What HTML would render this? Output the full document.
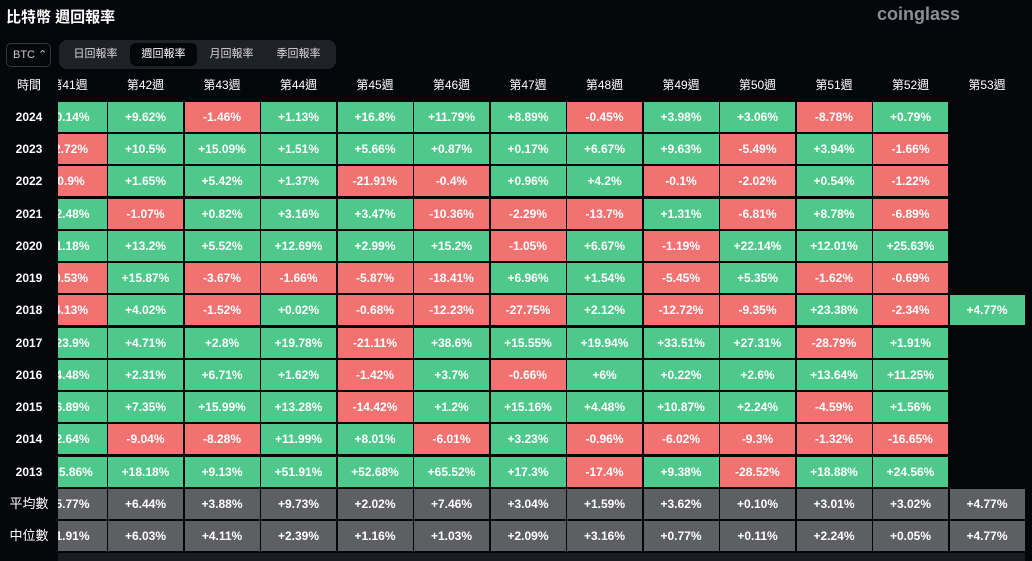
<!DOCTYPE html>
<html><head><meta charset="utf-8"><style>
*{margin:0;padding:0;box-sizing:border-box}
body{width:1032px;height:561px;background:#05060a;overflow:hidden;position:relative;font-family:"Liberation Sans","Noto Sans CJK TC",sans-serif;color:#fff}
.t{position:absolute;left:6px;top:6px;font-size:15px;font-weight:bold}
.logo{position:absolute;left:877px;top:4px;font-size:18px;font-weight:bold;color:#8b8e95;font-family:"Liberation Sans",sans-serif}
.btc{position:absolute;left:6px;top:43px;width:45px;height:24px;border:1px solid #34373f;border-radius:5px;font-size:11px;color:#ccc;line-height:22px;padding-left:6px}
.tabs{position:absolute;left:59px;top:40px;width:277px;height:29px;background:#1f2127;border-radius:8px}
.tab{position:absolute;top:3px;height:23px;width:67px;font-size:11px;color:#d8d8d8;text-align:center;line-height:23px;border-radius:6px}
.tab.a{background:#05060a;color:#fff}
.yl{position:absolute;left:0;width:58px;text-align:center;font-size:12px;font-weight:bold;line-height:30px}
.grid{position:absolute;left:58px;top:70px;width:974px;height:491px;overflow:hidden}
.c{position:absolute;width:75px;height:30px;line-height:30px;text-align:center;font-size:12px;font-weight:bold;color:#fff}
.h{height:30px;line-height:30px;font-weight:normal;font-size:12px}
.g{background:#4fc98b}.r{background:#f27272}.m{background:#5e5f63}
.sb{position:absolute;left:0;top:483px;width:967px;height:8px;background:#1a1c23}
</style></head><body>
<div class="t">比特幣 週回報率</div>
<div class="logo">coinglass</div>
<div class="btc">BTC ⌃</div>
<div class="tabs">
<div class="tab" style="left:3px">日回報率</div>
<div class="tab a" style="left:71px">週回報率</div>
<div class="tab" style="left:139px">月回報率</div>
<div class="tab" style="left:206px">季回報率</div>
</div>
<div class="yl" style="top:70px;font-weight:normal">時間</div>
<div class="yl" style="top:102px">2024</div>
<div class="yl" style="top:134px">2023</div>
<div class="yl" style="top:166px">2022</div>
<div class="yl" style="top:199px">2021</div>
<div class="yl" style="top:231px">2020</div>
<div class="yl" style="top:263px">2019</div>
<div class="yl" style="top:295px">2018</div>
<div class="yl" style="top:328px">2017</div>
<div class="yl" style="top:360px">2016</div>
<div class="yl" style="top:392px">2015</div>
<div class="yl" style="top:424px">2014</div>
<div class="yl" style="top:457px">2013</div>
<div class="yl" style="top:489px;font-weight:normal;font-size:13px">平均數</div>
<div class="yl" style="top:521px;font-weight:normal;font-size:13px">中位數</div>
<div class="grid">
<div class="sb"></div>
<div class="c h" style="left:-26.5px;top:0">第41週</div>
<div class="c h" style="left:50px;top:0">第42週</div>
<div class="c h" style="left:126.5px;top:0">第43週</div>
<div class="c h" style="left:203px;top:0">第44週</div>
<div class="c h" style="left:279.5px;top:0">第45週</div>
<div class="c h" style="left:356px;top:0">第46週</div>
<div class="c h" style="left:432.5px;top:0">第47週</div>
<div class="c h" style="left:509px;top:0">第48週</div>
<div class="c h" style="left:585.5px;top:0">第49週</div>
<div class="c h" style="left:662px;top:0">第50週</div>
<div class="c h" style="left:738.5px;top:0">第51週</div>
<div class="c h" style="left:815px;top:0">第52週</div>
<div class="c h" style="left:891.5px;top:0">第53週</div>

<div class="c g" style="left:-26.5px;top:32px">+0.14%</div><div class="c g" style="left:50px;top:32px">+9.62%</div><div class="c r" style="left:126.5px;top:32px">-1.46%</div><div class="c g" style="left:203px;top:32px">+1.13%</div><div class="c g" style="left:279.5px;top:32px">+16.8%</div><div class="c g" style="left:356px;top:32px">+11.79%</div><div class="c g" style="left:432.5px;top:32px">+8.89%</div><div class="c r" style="left:509px;top:32px">-0.45%</div><div class="c g" style="left:585.5px;top:32px">+3.98%</div><div class="c g" style="left:662px;top:32px">+3.06%</div><div class="c r" style="left:738.5px;top:32px">-8.78%</div><div class="c g" style="left:815px;top:32px">+0.79%</div>

<div class="c r" style="left:-26.5px;top:64px">-2.72%</div><div class="c g" style="left:50px;top:64px">+10.5%</div><div class="c g" style="left:126.5px;top:64px">+15.09%</div><div class="c g" style="left:203px;top:64px">+1.51%</div><div class="c g" style="left:279.5px;top:64px">+5.66%</div><div class="c g" style="left:356px;top:64px">+0.87%</div><div class="c g" style="left:432.5px;top:64px">+0.17%</div><div class="c g" style="left:509px;top:64px">+6.67%</div><div class="c g" style="left:585.5px;top:64px">+9.63%</div><div class="c r" style="left:662px;top:64px">-5.49%</div><div class="c g" style="left:738.5px;top:64px">+3.94%</div><div class="c r" style="left:815px;top:64px">-1.66%</div>

<div class="c r" style="left:-26.5px;top:96px">-0.9%</div><div class="c g" style="left:50px;top:96px">+1.65%</div><div class="c g" style="left:126.5px;top:96px">+5.42%</div><div class="c g" style="left:203px;top:96px">+1.37%</div><div class="c r" style="left:279.5px;top:96px">-21.91%</div><div class="c r" style="left:356px;top:96px">-0.4%</div><div class="c g" style="left:432.5px;top:96px">+0.96%</div><div class="c g" style="left:509px;top:96px">+4.2%</div><div class="c r" style="left:585.5px;top:96px">-0.1%</div><div class="c r" style="left:662px;top:96px">-2.02%</div><div class="c g" style="left:738.5px;top:96px">+0.54%</div><div class="c r" style="left:815px;top:96px">-1.22%</div>

<div class="c g" style="left:-26.5px;top:129px">+2.48%</div><div class="c r" style="left:50px;top:129px">-1.07%</div><div class="c g" style="left:126.5px;top:129px">+0.82%</div><div class="c g" style="left:203px;top:129px">+3.16%</div><div class="c g" style="left:279.5px;top:129px">+3.47%</div><div class="c r" style="left:356px;top:129px">-10.36%</div><div class="c r" style="left:432.5px;top:129px">-2.29%</div><div class="c r" style="left:509px;top:129px">-13.7%</div><div class="c g" style="left:585.5px;top:129px">+1.31%</div><div class="c r" style="left:662px;top:129px">-6.81%</div><div class="c g" style="left:738.5px;top:129px">+8.78%</div><div class="c r" style="left:815px;top:129px">-6.89%</div>

<div class="c g" style="left:-26.5px;top:161px">+1.18%</div><div class="c g" style="left:50px;top:161px">+13.2%</div><div class="c g" style="left:126.5px;top:161px">+5.52%</div><div class="c g" style="left:203px;top:161px">+12.69%</div><div class="c g" style="left:279.5px;top:161px">+2.99%</div><div class="c g" style="left:356px;top:161px">+15.2%</div><div class="c r" style="left:432.5px;top:161px">-1.05%</div><div class="c g" style="left:509px;top:161px">+6.67%</div><div class="c r" style="left:585.5px;top:161px">-1.19%</div><div class="c g" style="left:662px;top:161px">+22.14%</div><div class="c g" style="left:738.5px;top:161px">+12.01%</div><div class="c g" style="left:815px;top:161px">+25.63%</div>

<div class="c r" style="left:-26.5px;top:193px">-0.53%</div><div class="c g" style="left:50px;top:193px">+15.87%</div><div class="c r" style="left:126.5px;top:193px">-3.67%</div><div class="c r" style="left:203px;top:193px">-1.66%</div><div class="c r" style="left:279.5px;top:193px">-5.87%</div><div class="c r" style="left:356px;top:193px">-18.41%</div><div class="c g" style="left:432.5px;top:193px">+6.96%</div><div class="c g" style="left:509px;top:193px">+1.54%</div><div class="c r" style="left:585.5px;top:193px">-5.45%</div><div class="c g" style="left:662px;top:193px">+5.35%</div><div class="c r" style="left:738.5px;top:193px">-1.62%</div><div class="c r" style="left:815px;top:193px">-0.69%</div>

<div class="c r" style="left:-26.5px;top:225px">-4.13%</div><div class="c g" style="left:50px;top:225px">+4.02%</div><div class="c r" style="left:126.5px;top:225px">-1.52%</div><div class="c g" style="left:203px;top:225px">+0.02%</div><div class="c r" style="left:279.5px;top:225px">-0.68%</div><div class="c r" style="left:356px;top:225px">-12.23%</div><div class="c r" style="left:432.5px;top:225px">-27.75%</div><div class="c g" style="left:509px;top:225px">+2.12%</div><div class="c r" style="left:585.5px;top:225px">-12.72%</div><div class="c r" style="left:662px;top:225px">-9.35%</div><div class="c g" style="left:738.5px;top:225px">+23.38%</div><div class="c r" style="left:815px;top:225px">-2.34%</div><div class="c g" style="left:891.5px;top:225px">+4.77%</div>

<div class="c g" style="left:-26.5px;top:258px">+23.9%</div><div class="c g" style="left:50px;top:258px">+4.71%</div><div class="c g" style="left:126.5px;top:258px">+2.8%</div><div class="c g" style="left:203px;top:258px">+19.78%</div><div class="c r" style="left:279.5px;top:258px">-21.11%</div><div class="c g" style="left:356px;top:258px">+38.6%</div><div class="c g" style="left:432.5px;top:258px">+15.55%</div><div class="c g" style="left:509px;top:258px">+19.94%</div><div class="c g" style="left:585.5px;top:258px">+33.51%</div><div class="c g" style="left:662px;top:258px">+27.31%</div><div class="c r" style="left:738.5px;top:258px">-28.79%</div><div class="c g" style="left:815px;top:258px">+1.91%</div>

<div class="c g" style="left:-26.5px;top:290px">+4.48%</div><div class="c g" style="left:50px;top:290px">+2.31%</div><div class="c g" style="left:126.5px;top:290px">+6.71%</div><div class="c g" style="left:203px;top:290px">+1.62%</div><div class="c r" style="left:279.5px;top:290px">-1.42%</div><div class="c g" style="left:356px;top:290px">+3.7%</div><div class="c r" style="left:432.5px;top:290px">-0.66%</div><div class="c g" style="left:509px;top:290px">+6%</div><div class="c g" style="left:585.5px;top:290px">+0.22%</div><div class="c g" style="left:662px;top:290px">+2.6%</div><div class="c g" style="left:738.5px;top:290px">+13.64%</div><div class="c g" style="left:815px;top:290px">+11.25%</div>

<div class="c g" style="left:-26.5px;top:322px">+6.89%</div><div class="c g" style="left:50px;top:322px">+7.35%</div><div class="c g" style="left:126.5px;top:322px">+15.99%</div><div class="c g" style="left:203px;top:322px">+13.28%</div><div class="c r" style="left:279.5px;top:322px">-14.42%</div><div class="c g" style="left:356px;top:322px">+1.2%</div><div class="c g" style="left:432.5px;top:322px">+15.16%</div><div class="c g" style="left:509px;top:322px">+4.48%</div><div class="c g" style="left:585.5px;top:322px">+10.87%</div><div class="c g" style="left:662px;top:322px">+2.24%</div><div class="c r" style="left:738.5px;top:322px">-4.59%</div><div class="c g" style="left:815px;top:322px">+1.56%</div>

<div class="c g" style="left:-26.5px;top:354px">+2.64%</div><div class="c r" style="left:50px;top:354px">-9.04%</div><div class="c r" style="left:126.5px;top:354px">-8.28%</div><div class="c g" style="left:203px;top:354px">+11.99%</div><div class="c g" style="left:279.5px;top:354px">+8.01%</div><div class="c r" style="left:356px;top:354px">-6.01%</div><div class="c g" style="left:432.5px;top:354px">+3.23%</div><div class="c r" style="left:509px;top:354px">-0.96%</div><div class="c r" style="left:585.5px;top:354px">-6.02%</div><div class="c r" style="left:662px;top:354px">-9.3%</div><div class="c r" style="left:738.5px;top:354px">-1.32%</div><div class="c r" style="left:815px;top:354px">-16.65%</div>

<div class="c g" style="left:-26.5px;top:387px">+25.86%</div><div class="c g" style="left:50px;top:387px">+18.18%</div><div class="c g" style="left:126.5px;top:387px">+9.13%</div><div class="c g" style="left:203px;top:387px">+51.91%</div><div class="c g" style="left:279.5px;top:387px">+52.68%</div><div class="c g" style="left:356px;top:387px">+65.52%</div><div class="c g" style="left:432.5px;top:387px">+17.3%</div><div class="c r" style="left:509px;top:387px">-17.4%</div><div class="c g" style="left:585.5px;top:387px">+9.38%</div><div class="c r" style="left:662px;top:387px">-28.52%</div><div class="c g" style="left:738.5px;top:387px">+18.88%</div><div class="c g" style="left:815px;top:387px">+24.56%</div>

<div class="c m" style="left:-26.5px;top:419px">+5.77%</div><div class="c m" style="left:50px;top:419px">+6.44%</div><div class="c m" style="left:126.5px;top:419px">+3.88%</div><div class="c m" style="left:203px;top:419px">+9.73%</div><div class="c m" style="left:279.5px;top:419px">+2.02%</div><div class="c m" style="left:356px;top:419px">+7.46%</div><div class="c m" style="left:432.5px;top:419px">+3.04%</div><div class="c m" style="left:509px;top:419px">+1.59%</div><div class="c m" style="left:585.5px;top:419px">+3.62%</div><div class="c m" style="left:662px;top:419px">+0.10%</div><div class="c m" style="left:738.5px;top:419px">+3.01%</div><div class="c m" style="left:815px;top:419px">+3.02%</div><div class="c m" style="left:891.5px;top:419px">+4.77%</div>

<div class="c m" style="left:-26.5px;top:451px">+1.91%</div><div class="c m" style="left:50px;top:451px">+6.03%</div><div class="c m" style="left:126.5px;top:451px">+4.11%</div><div class="c m" style="left:203px;top:451px">+2.39%</div><div class="c m" style="left:279.5px;top:451px">+1.16%</div><div class="c m" style="left:356px;top:451px">+1.03%</div><div class="c m" style="left:432.5px;top:451px">+2.09%</div><div class="c m" style="left:509px;top:451px">+3.16%</div><div class="c m" style="left:585.5px;top:451px">+0.77%</div><div class="c m" style="left:662px;top:451px">+0.11%</div><div class="c m" style="left:738.5px;top:451px">+2.24%</div><div class="c m" style="left:815px;top:451px">+0.05%</div><div class="c m" style="left:891.5px;top:451px">+4.77%</div>
</div>
</body></html>
